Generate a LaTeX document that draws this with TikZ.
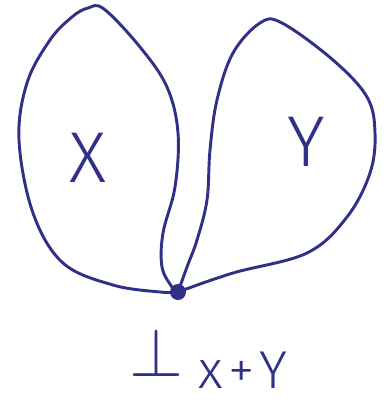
\documentclass[tikz,border=0pt]{standalone}
\usepackage{fontspec}
\usepackage{graphicx}
\newfontfamily\hand{Fira Sans Light}
\newfontfamily\handwide{Fira Sans Light}[LetterSpace=14]
\definecolor{ink}{RGB}{48,48,135}
\begin{document}
\begin{tikzpicture}[x=0.75pt,y=-0.75pt,
  stroke/.style={draw=ink,line width=2.2pt,line cap=round,line join=round},
  lab/.style={text=ink,inner sep=0pt}]
\useasboundingbox (0,0) rectangle (384,404);
\node[circle,fill=ink,minimum size=12pt,inner sep=0pt] (p) at (178,292) {};
% left lobe X
\draw[stroke] plot[smooth,tension=0.6] coordinates {(p.center) (160,292) (113,285) (63,263) (33,213) (19,140) (27,83) (50,40) (72,17) (88,8) (104,9) (140,47) (167,87) (178,133) (175,187) (163,233) (162,267) (172,287) (p.center)};
% right lobe Y
\draw[stroke] plot[smooth,tension=0.6] coordinates {(p.center) (233,273) (307,253) (347,217) (370,173) (375,133) (367,97) (333,60) (282,23) (260,23) (233,53) (217,100) (210,150) (207,200) (197,240) (187,267) (p.center)};
\node[lab,font=\hand\fontsize{54}{54}\selectfont] (x) at (88,158) {X};
\node[lab,font=\hand\fontsize{54}{54}\selectfont] (y) at (306,142) {Y};
\node[lab] (bot) at (156,352) {\scalebox{5.2}{$\bot$}};
\node[lab,font=\handwide\fontsize{40}{40}\selectfont,anchor=base west] (sub) at (198,388) {x+Y};
\end{tikzpicture}
\end{document}
